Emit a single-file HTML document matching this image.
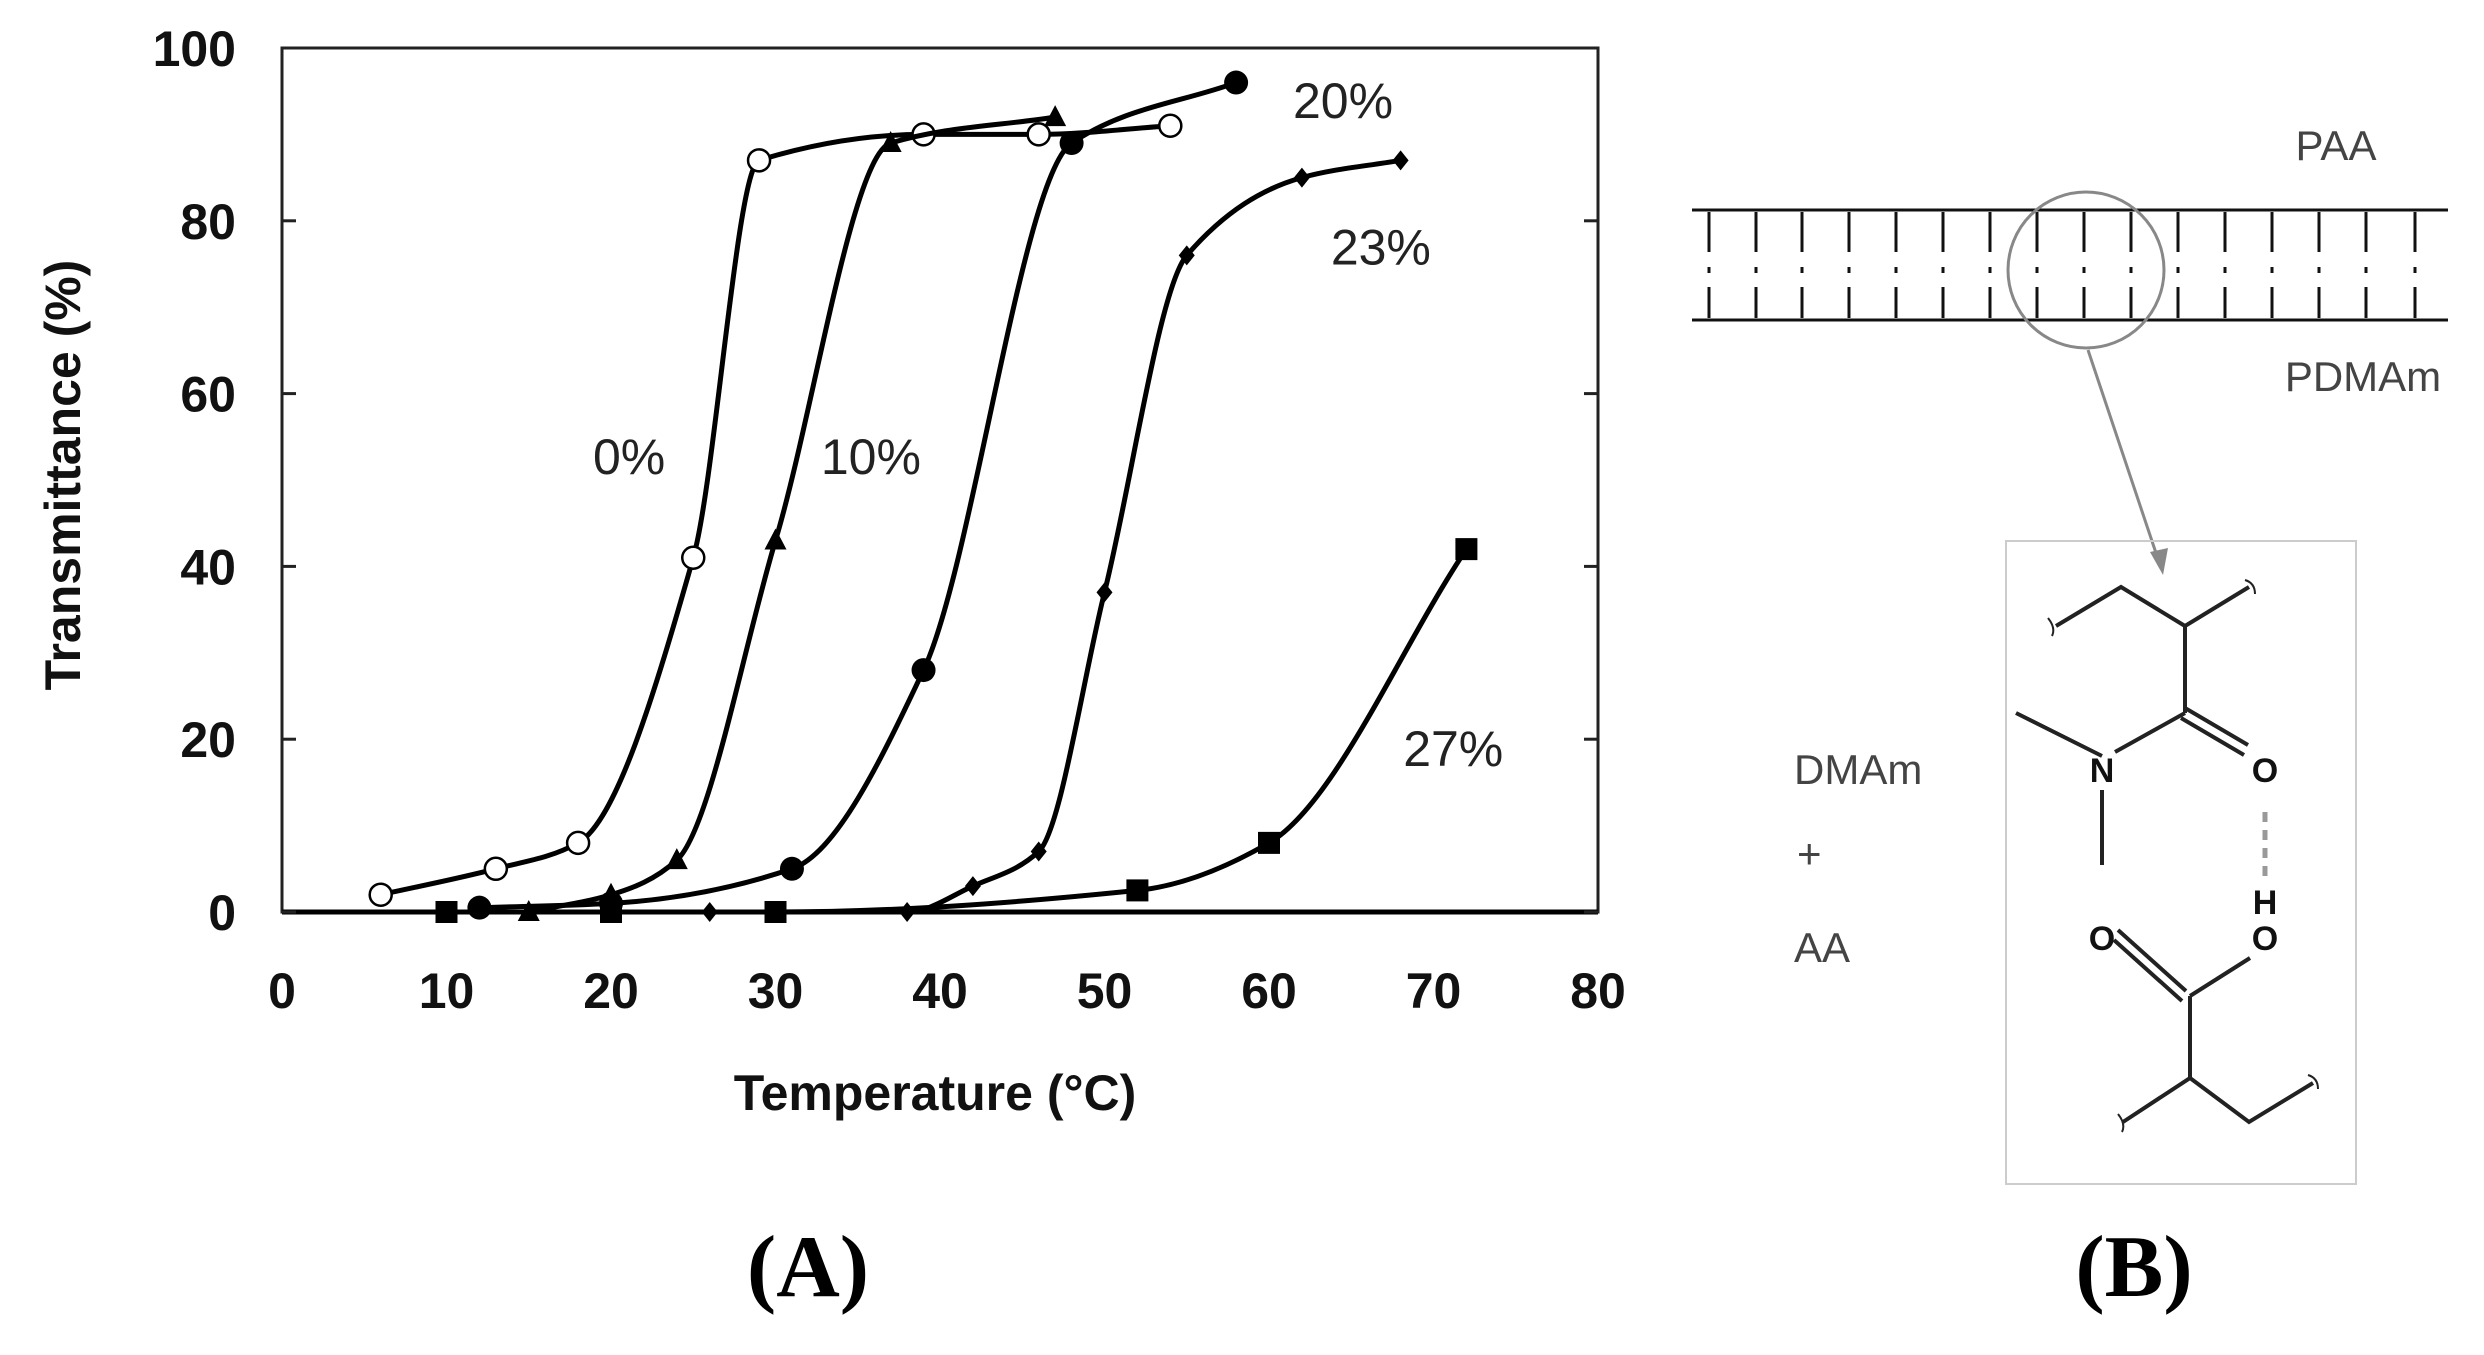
<!DOCTYPE html>
<html><head><meta charset="utf-8"><style>
html,body{margin:0;padding:0;background:#fff;}
svg{display:block}
.tk{font-family:"Liberation Sans",sans-serif;font-weight:bold;font-size:50px;fill:#111}
.lab{font-family:"Liberation Sans",sans-serif;font-size:50px;fill:#222}
.gl{font-family:"Liberation Sans",sans-serif;font-size:42px;fill:#444}
.pl{font-family:"Liberation Serif",serif;font-weight:bold;font-size:88px;fill:#000}
</style></head><body>
<svg id="c" width="2484" height="1355" viewBox="0 0 2484 1355"></svg>
<script>
const xTicks=[0,10,20,30,40,50,60,70,80];
const yTicks=[0,20,40,60,80,100];
const s0x=[6,13,18,25,29,39,46,54], s0y=[2,5,8,41,87,90,90,91];
const s10x=[15,20,24,30,37,47], s10y=[0,2,6,43,89,92];
const s20x=[12,20,31,39,48,58], s20y=[0.5,1,5,28,89,96];
const s23x=[26,38,42,46,50,55,62,68], s23y=[0,0,3,7,37,76,85,87];
const s27x=[10,20,30,52,60,72], s27y=[0,0,0,2.5,8,42];
const labels=["0%","10%","20%","23%","27%"];
const labelX=[21.1,35.8,64.5,66.8,71.2], labelY=[52.8,52.8,94,77,19];
const NS="http://www.w3.org/2000/svg";
const svg=document.getElementById('c');
const X=v=>282+v*(1598-282)/80, Y=v=>912-v*(912-48)/100;
function el(t,a,p){const e=document.createElementNS(NS,t);for(const k in a)e.setAttribute(k,a[k]);(p||svg).appendChild(e);return e;}
let g=el('g',{});


let fr=el('rect',{x:282,y:48,width:1316,height:864,fill:'none',stroke:'#222','stroke-width':3},g);


el('line',{x1:282,y1:912,x2:1598,y2:912,stroke:'#000','stroke-width':5},g);
xTicks.forEach(v=>{
 const t=el('text',{x:X(v),y:1008,'text-anchor':'middle',class:'tk'},g);t.textContent=v;
 
 
});
yTicks.forEach(v=>{
 const t=el('text',{x:236,y:Y(v)+18,'text-anchor':'end',class:'tk'},g);t.textContent=v;
 
 
 el('line',{x1:282,y1:Y(v),x2:296,y2:Y(v),stroke:'#222','stroke-width':3},g);
 el('line',{x1:1584,y1:Y(v),x2:1598,y2:Y(v),stroke:'#222','stroke-width':3},g);
});
let xt=el('text',{x:935,y:1110,'text-anchor':'middle',class:'tk'},g);xt.textContent='Temperature  (°C)';


let yt=el('text',{x:0,y:0,'text-anchor':'middle',class:'tk',transform:'translate(80,475) rotate(-90)'},g);yt.textContent='Transmittance  (%)';


function mono(xs,ys){
 const px=xs.map(X),py=ys.map(Y),n=px.length;const d=[],m=[];
 for(let i=0;i<n-1;i++)d.push((py[i+1]-py[i])/(px[i+1]-px[i]));
 m[0]=d[0];m[n-1]=d[n-2];
 for(let i=1;i<n-1;i++)m[i]=(d[i-1]*d[i]<=0)?0:2/(1/d[i-1]+1/d[i]);
 let s=`M${px[0]},${py[0]}`;
 for(let i=0;i<n-1;i++){const h=(px[i+1]-px[i])/3;s+=` C${px[i]+h},${py[i]+m[i]*h} ${px[i+1]-h},${py[i+1]-m[i+1]*h} ${px[i+1]},${py[i+1]}`;}
 return s;
}
const series=[[s0x,s0y,'circle-open'],[s10x,s10y,'triangle'],[s20x,s20y,'circle'],[s23x,s23y,'diamond'],[s27x,s27y,'square']];
series.forEach((s,k)=>{
 const p=el('path',{d:mono(s[0],s[1]),fill:'none',stroke:'#000','stroke-width':5},g);
 
 
 s[0].forEach((xv,i)=>{
  const cx=X(xv),cy=Y(s[1][i]);let m;
  if(s[2]=='circle-open')m=el('circle',{cx,cy,r:11,fill:'#fff',stroke:'#000','stroke-width':2.5},g);
  else if(s[2]=='circle')m=el('circle',{cx,cy,r:12,fill:'#000'},g);
  else if(s[2]=='triangle')m=el('polygon',{points:`${cx},${cy-12} ${cx-11},${cy+9} ${cx+11},${cy+9}`,fill:'#000'},g);
  else if(s[2]=='diamond')m=el('polygon',{points:`${cx},${cy-10} ${cx+8},${cy} ${cx},${cy+10} ${cx-8},${cy}`,fill:'#000'},g);
  else m=el('rect',{x:cx-11,y:cy-11,width:22,height:22,fill:'#000'},g);
  
  
 });
});
labels.forEach((l,k)=>{
 const t=el('text',{x:X(labelX[k]),y:Y(labelY[k])+18,'text-anchor':'middle',class:'lab'},g);t.textContent=l;
 
 
});
</script>
<svg width="2484" height="1355" style="position:absolute;left:0;top:0">
<g stroke="#111" stroke-width="3" fill="none">
<line x1="1692" y1="210" x2="2448" y2="210"/><line x1="1692" y1="320" x2="2448" y2="320"/>
</g>
<g stroke="#111" stroke-width="3">
<path d="M1709 212V252M1709 267V273M1709 287V318M1756 212V252M1756 267V273M1756 287V318M1802 212V252M1802 267V273M1802 287V318M1849 212V252M1849 267V273M1849 287V318M1896 212V252M1896 267V273M1896 287V318M1943 212V252M1943 267V273M1943 287V318M1990 212V252M1990 267V273M1990 287V318M2037 212V252M2037 267V273M2037 287V318M2084 212V252M2084 267V273M2084 287V318M2131 212V252M2131 267V273M2131 287V318M2178 212V252M2178 267V273M2178 287V318M2225 212V252M2225 267V273M2225 287V318M2272 212V252M2272 267V273M2272 287V318M2319 212V252M2319 267V273M2319 287V318M2366 212V252M2366 267V273M2366 287V318M2415 212V252M2415 267V273M2415 287V318"/>
</g>
<circle cx="2086" cy="270" r="78" fill="none" stroke="#888" stroke-width="3"/>
<line x1="2088" y1="350" x2="2160" y2="565" stroke="#888" stroke-width="3"/>
<polygon points="2163,575 2150,552 2168,548" fill="#888"/>
<text x="2336" y="160" class="gl" text-anchor="middle">PAA</text>
<text x="2363" y="391" class="gl" text-anchor="middle">PDMAm</text>
<rect x="2006" y="541" width="350" height="643" fill="none" stroke="#ccc" stroke-width="2"/>
<g stroke="#222" stroke-width="4" fill="none">
<path d="M2056 626L2121 587L2185 626L2249 587M2185 626V713M2185 713L2115 752M2102 756L2016 713M2102 790V865"/>
<path d="M2185 708L2248 745M2181 718L2244 755"/>
<path d="M2190 996V1078L2123 1122M2190 1078L2249 1122L2313 1083M2190 996L2250 958"/>
<path d="M2118 930L2186 991M2114 940L2182 1001"/>
<path d="M2048 618q8 10 4 18M2245 580q10 3 10 14M2118 1114q8 10 4 18M2308 1075q10 3 10 14" stroke-width="2"/>
</g>
<line x1="2265" y1="812" x2="2265" y2="878" stroke="#999" stroke-width="5" stroke-dasharray="10,8"/>
<g font-family="Liberation Sans,sans-serif" font-weight="bold" font-size="34" fill="#111" text-anchor="middle">
<text x="2102" y="782">N</text><text x="2265" y="782">O</text><text x="2265" y="914">H</text><text x="2265" y="950">O</text><text x="2102" y="950">O</text>
</g>
<text x="1794" y="784" class="gl">DMAm</text>
<text x="1797" y="868" class="gl">+</text>
<text x="1794" y="962" class="gl">AA</text>
<text x="808" y="1296" class="pl" text-anchor="middle">(A)</text>
<text x="2134" y="1296" class="pl" text-anchor="middle">(B)</text>
</svg>
</body></html>
